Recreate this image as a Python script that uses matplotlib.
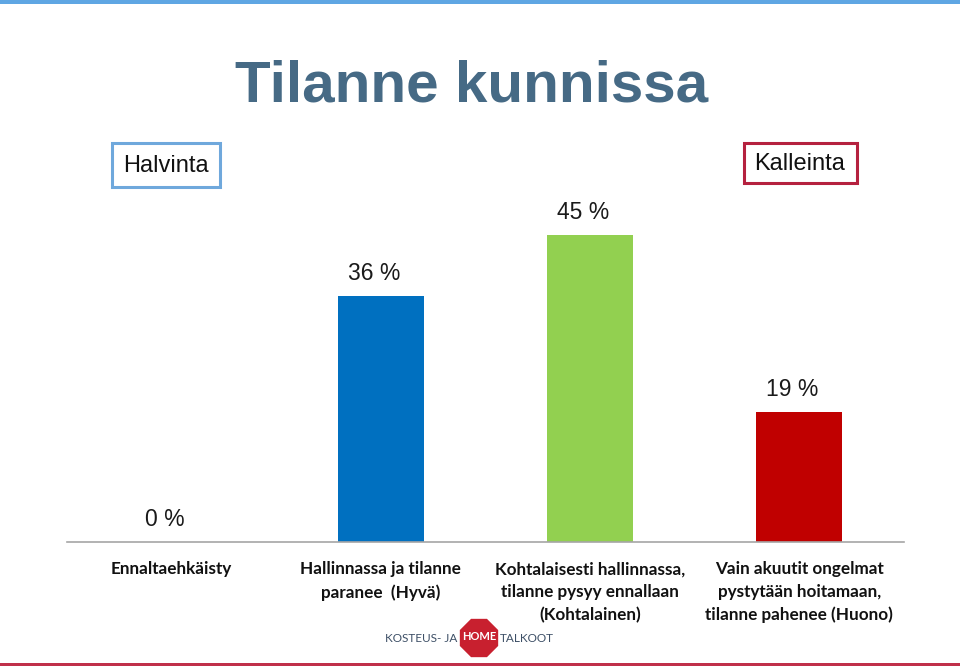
import matplotlib.pyplot as plt
from matplotlib.patches import RegularPolygon, Rectangle
from matplotlib import font_manager

# data
categories = [
    "Ennaltaehkäisty",
    "Hallinnassa ja tilanne\nparanee  (Hyvä)",
    "Kohtalaisesti hallinnassa,\ntilanne pysyy ennallaan\n(Kohtalainen)",
    "Vain akuutit ongelmat\npystytään hoitamaan,\ntilanne pahenee (Huono)",
]
values = [0, 36, 45, 19]
value_labels = ["0 %", "36 %", "45 %", "19 %"]
bar_colors = ["#0070c0", "#0070c0", "#92d050", "#c00000"]

names = {f.name for f in font_manager.fontManager.ttflist}
label_font = "Liberation Sans Narrow" if "Liberation Sans Narrow" in names else "Lato"

W, H = 960, 666
fig = plt.figure(figsize=(9.6, 6.66), dpi=100)

# axes: baseline at y=542px, 45 % at y=235px
ax_left, ax_right = 67 / W, 904 / W
ax_bottom = (H - 542) / H
ax_top_px = 150
ax = fig.add_axes((ax_left, ax_bottom, ax_right - ax_left, (542 - ax_top_px) / H))
ymax = 45 * (542 - ax_top_px) / (542 - 235)
ax.set_ylim(0, ymax)
ax.set_xlim(-0.5, 3.5)

x = range(len(categories))
ax.bar(x, values, width=0.41, color=bar_colors)
for i, (v, lab) in enumerate(zip(values, value_labels)):
    ax.annotate(lab, (i, v), xytext=(-5, 8), textcoords="offset points",
                ha="center", va="bottom", fontsize=16.5, family="Liberation Sans",
                color="#1a1a1a", annotation_clip=False)

for s in ["top", "left", "right"]:
    ax.spines[s].set_visible(False)
ax.spines["bottom"].set_color("#a6a6a6")
ax.spines["bottom"].set_linewidth(1.2)
ax.set_yticks([])
ax.set_xticks(list(x))
ax.set_xticklabels(categories, fontsize=12.3, fontweight="bold", family=label_font,
                   linespacing=1.5, va="top", color="#111111")
ax.tick_params(axis="x", length=0, pad=14)

# title
fig.text(472 / W, 1 - 87 / H, "Tilanne kunnissa", ha="center", va="center",
         fontsize=42, fontweight="bold", family="Liberation Sans", color="#466a85")

# boxes
fig.text(166 / W, 1 - 166 / H, "Halvinta", ha="center", va="center", fontsize=17,
         family="Liberation Sans", color="#111111")
fig.add_artist(Rectangle((112 / W, 1 - 187 / H), 108 / W, 44 / H,
                         transform=fig.transFigure, fill=False,
                         edgecolor="#6fa8dc", linewidth=2.2))
fig.text(800 / W, 1 - 164 / H, "Kalleinta", ha="center", va="center", fontsize=17,
         family="Liberation Sans", color="#111111")
fig.add_artist(Rectangle((744 / W, 1 - 183 / H), 113 / W, 40 / H,
                         transform=fig.transFigure, fill=False,
                         edgecolor="#b5213f", linewidth=2.2))

# top and bottom strips
fig.add_artist(Rectangle((0, 1 - 4 / H), 1, 4 / H, transform=fig.transFigure,
                         color="#5fa6e3", linewidth=0))
fig.add_artist(Rectangle((0, 0), 1, 3 / H, transform=fig.transFigure,
                         color="#c0304a", linewidth=0))

# logo
fig.text(457 / W, 1 - 638 / H, "KOSTEUS- JA", ha="right", va="center",
         fontsize=8.5, family=label_font, color="#3d4f66")
fig.add_artist(RegularPolygon((4.79, (H - 638) / 100), numVertices=8, radius=0.2,
                              orientation=3.14159 / 8, transform=fig.dpi_scale_trans,
                              facecolor="#c8202f", edgecolor="#c8202f"))
fig.text(479 / W, 1 - 637 / H, "HOME", ha="center", va="center", fontsize=8,
         fontweight="bold", family=label_font, color="white")
fig.text(500 / W, 1 - 638 / H, "TALKOOT", ha="left", va="center",
         fontsize=8.5, family=label_font, color="#3d4f66")

fig.savefig("out.png", dpi=100)
